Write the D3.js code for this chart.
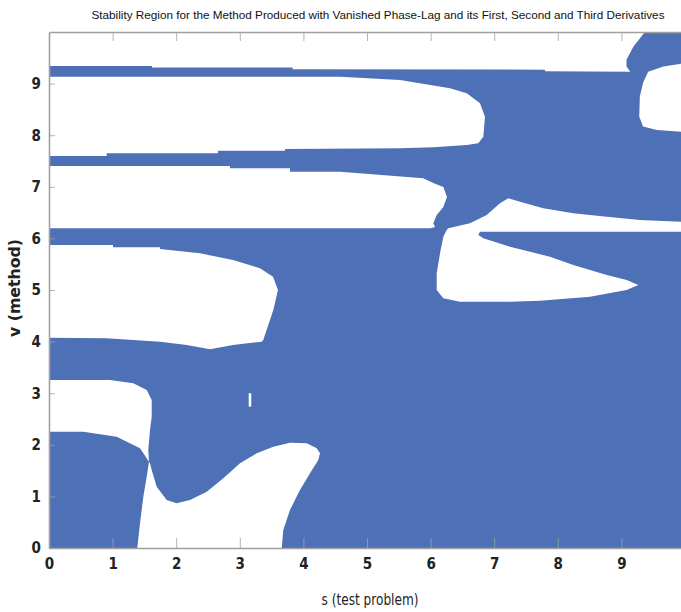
<!DOCTYPE html>
<html><head><meta charset="utf-8">
<script src="https://cdn.jsdelivr.net/npm/d3@7/dist/d3.min.js"></script>
<style>body{margin:0;background:#fff}</style>
</head><body>
<svg id="c" width="681" height="612"></svg>
<script>
// ---- data (s = test problem, v = method) ----
const sDomain = [0, 10];
const vDomain = [0, 10];
const xTickValues = [0, 1, 2, 3, 4, 5, 6, 7, 8, 9];
const yTickValues = [0, 1, 2, 3, 4, 5, 6, 7, 8, 9];
const titleText = "Stability Region for the Method Produced with Vanished Phase-Lag and its First, Second and Third Derivatives";
const xLabel = "s (test problem)";
const yLabel = "v (method)";

// stable region fills the whole domain; unstable (white) holes are cut from it
const stableRegion = [[0,0],[10,0],[10,10],[0,10]];

const holeTop = [[0,10],[9.37,10],[9.19,9.72],[9.08,9.46],[9.08,9.33],[9.14,9.23],[7.8,9.24],[7.8,9.27],[3.83,9.28],[3.83,9.31],[1.62,9.31],[1.62,9.34],[0,9.34]];

const holeRightTop = [[10,9.40],[9.66,9.33],[9.42,9.23],[9.34,9.01],[9.29,8.75],[9.28,8.36],[9.34,8.17],[9.56,8.10],[10,8.06]];

const holeA = [[0,9.134],[4.575,9.134],[5.519,9.07],[6.305,8.909],[6.568,8.812],[6.777,8.618],[6.855,8.359],[6.829,7.971],[6.75,7.843],[6.568,7.81],[6.042,7.766],[5.519,7.746],[3.711,7.733],[3.711,7.70],[2.657,7.70],[2.657,7.649],[0.907,7.649],[0.907,7.597],[0,7.597]];

const holeB = [[0,7.403],[2.846,7.403],[2.846,7.358],[3.789,7.358],[3.789,7.293],[4.575,7.29],[5.885,7.165],[6.042,7.074],[6.2,6.996],[6.258,6.802],[6.2,6.609],[6.096,6.453],[6.042,6.293],[6.069,6.221],[6.0,6.196],[0,6.196]];

const holeC = [[0,5.872],[1.006,5.872],[1.006,5.828],[1.745,5.828],[1.745,5.795],[2.374,5.711],[2.893,5.581],[3.318,5.421],[3.522,5.258],[3.6,5.0],[3.527,4.612],[3.369,4.031],[3.344,3.998],[2.893,3.934],[2.531,3.851],[2.165,3.934],[1.745,3.998],[1.325,4.031],[0.907,4.064],[0,4.076]];

const holeD = [[0,3.256],[0.96,3.256],[1.325,3.192],[1.536,3.062],[1.615,2.868],[1.615,2.545],[1.588,2.287],[1.561,1.899],[1.572,1.667],[1.536,1.738],[1.431,1.932],[1.064,2.157],[0.54,2.254],[0,2.254]];

const holeE = [[1.572,1.667],[1.536,1.382],[1.483,0.994],[1.431,0.479],[1.388,0],[3.659,0],[3.684,0.349],[3.789,0.736],[3.946,1.124],[4.104,1.448],[4.234,1.705],[4.261,1.835],[4.209,1.932],[4.052,2.029],[3.789,2.041],[3.527,1.963],[3.266,1.835],[3.003,1.641],[2.741,1.351],[2.48,1.091],[2.217,0.93],[2.008,0.866],[1.851,0.93],[1.693,1.188],[1.615,1.512],[1.588,1.641]];

const holeFG = [[6.278,6.196],[6.619,6.293],[6.882,6.453],[7.091,6.68],[7.222,6.777],[7.406,6.711],[7.772,6.583],[8.244,6.486],[8.769,6.421],[9.292,6.357],[10,6.32],[10,6.13],[6.777,6.13],[6.75,6.066],[6.829,6.002],[7.248,5.839],[7.877,5.645],[8.244,5.484],[8.769,5.291],[9.083,5.194],[9.266,5.097],[9.083,5.0],[8.506,4.87],[7.72,4.793],[7.248,4.773],[6.462,4.773],[6.2,4.839],[6.096,5.0],[6.096,5.324],[6.148,5.711],[6.2,6.033],[6.253,6.163]];

const holeSpeck = [[3.14,2.74],[3.18,2.74],[3.18,3.0],[3.14,3.0]];

const holes = [holeTop, holeRightTop, holeA, holeB, holeC, holeD, holeE, holeFG, holeSpeck];

// ---- drawing ----
const blue = "#4e70b7";
const axisGray = "#a0a0a0";
const svg = d3.select("#c");
const x = d3.scaleLinear().domain(sDomain).range([49, 685]);
const y = d3.scaleLinear().domain(vDomain).range([548, 32]);

svg.append("defs").append("clipPath").attr("id", "plotClip")
  .append("rect").attr("x", x(0)).attr("y", y(10)).attr("width", x(10) - x(0)).attr("height", y(0) - y(10));

const line = d3.line().x(d => x(d[0])).y(d => y(d[1])).curve(d3.curveLinearClosed);
const g = svg.append("g").attr("clip-path", "url(#plotClip)");
g.append("path").attr("d", line(stableRegion)).attr("fill", blue);
g.selectAll("path.hole").data(holes).join("path").attr("class", "hole")
  .attr("d", d => line(d)).attr("fill", "#fff");

const font = "'DejaVu Sans Condensed', 'Liberation Sans', sans-serif";
const titleFont = "'Liberation Sans', sans-serif";

// bottom axis (inward ticks)
const xa = svg.append("g").attr("transform", `translate(0,${y(0)})`)
  .call(d3.axisBottom(x).tickValues(xTickValues).tickSizeInner(-10).tickSizeOuter(0).tickPadding(10));
// left axis
const ya = svg.append("g").attr("transform", `translate(${x(0)},0)`)
  .call(d3.axisLeft(y).tickValues(yTickValues).tickSizeInner(-6).tickSizeOuter(0).tickPadding(8));
// top border
const ta = svg.append("g").attr("transform", `translate(0,${y(10)})`)
  .call(d3.axisTop(x).tickValues(xTickValues.slice(1)).tickSizeInner(-9).tickSizeOuter(0).tickFormat(""));
[xa, ya, ta].forEach(a => {
  a.select(".domain").attr("stroke", axisGray).attr("stroke-width", 1.6);
  a.selectAll(".tick line").attr("stroke", axisGray).attr("stroke-opacity", 0.8);
  a.selectAll(".tick text").attr("fill", "#222").style("font-family", font).style("font-size", "15px").style("font-weight", "bold");
});
xa.select(".tick line").remove();

svg.append("text").attr("x", 378).attr("y", 19).attr("text-anchor", "middle")
  .attr("textLength", 573).attr("lengthAdjust", "spacingAndGlyphs")
  .style("font-family", titleFont).style("font-size", "11.5px").attr("fill", "#111").text(titleText);

svg.append("text").attr("x", 370).attr("y", 605).attr("text-anchor", "middle")
  .attr("textLength", 97).attr("lengthAdjust", "spacingAndGlyphs")
  .style("font-family", font).style("font-size", "16px").attr("fill", "#222").text(xLabel);

svg.append("text").attr("transform", "translate(20,288) rotate(-90)").attr("text-anchor", "middle")
  .attr("textLength", 98).attr("lengthAdjust", "spacingAndGlyphs")
  .style("font-family", font).style("font-size", "16px").style("font-weight", "bold").attr("fill", "#222").text(yLabel);
</script>
</body></html>
